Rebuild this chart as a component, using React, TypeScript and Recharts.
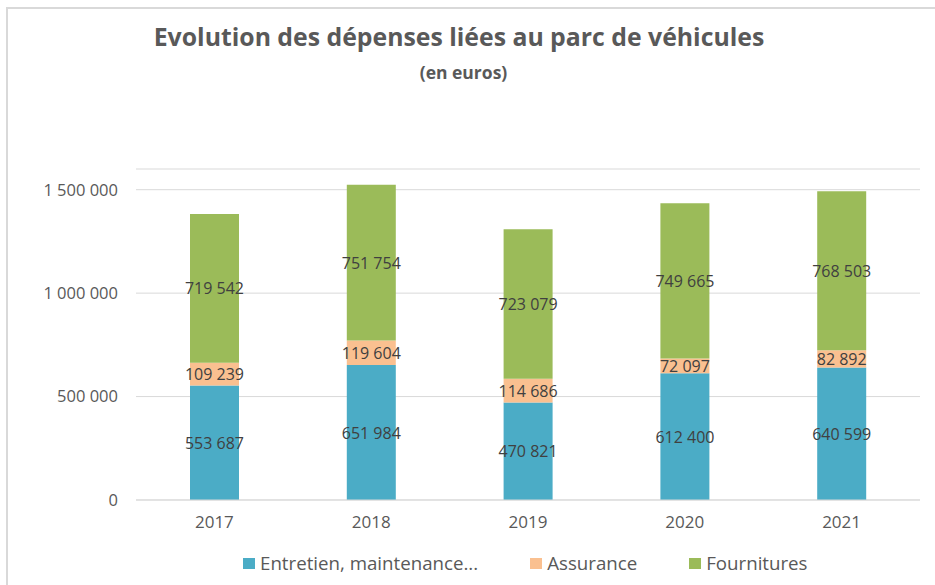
import { BarChart, Bar, XAxis, YAxis, CartesianGrid, LabelList } from "recharts";

const YEARS = ["2017", "2018", "2019", "2020", "2021"];
const ENTRETIEN = [553687, 651984, 470821, 612400, 640599];
const ASSURANCE = [109239, 119604, 114686, 72097, 82892];
const FOURNITURES = [719542, 751754, 723079, 749665, 768503];
const Y_TICKS = [0, 500000, 1000000, 1500000];

const SERIES = [
  { key: "entretien", label: "Entretien, maintenance...", color: "#4BACC6" },
  { key: "assurance", label: "Assurance", color: "#FAC090" },
  { key: "fournitures", label: "Fournitures", color: "#9BBB59" },
];

const data = YEARS.map((year, i) => ({
  year,
  entretien: ENTRETIEN[i],
  assurance: ASSURANCE[i],
  fournitures: FOURNITURES[i],
}));

const FONT = "'Open Sans', sans-serif";

// French thousands separator with a plain space
const fmt = (v: unknown) =>
  String(Math.round(Number(v))).replace(/\B(?=(\d{3})+(?!\d))/g, " ");

// centered label, no wrapping inside the narrow bar
const renderLabel = (props: any) => {
  const { x, y, width, height, value } = props;
  return (
    <text
      x={Number(x) + Number(width) / 2}
      y={Number(y) + Number(height) / 2}
      textAnchor="middle"
      dominantBaseline="central"
      fontSize={16}
      fontFamily={FONT}
      fill="#404040"
    >
      {fmt(value)}
    </text>
  );
};

export default function App() {
  return (
    <div
      style={{
        position: "absolute",
        left: 0,
        top: 0,
        width: 935,
        height: 585,
        background: "#fff",
        fontFamily: FONT,
        overflow: "hidden",
      }}
    >
      {/* chart frame */}
      <div
        style={{
          position: "absolute",
          left: 6,
          top: 7,
          width: 940,
          height: 600,
          borderLeft: "2px solid #d9d9d9",
          borderTop: "2px solid #d9d9d9",
        }}
      />
      <div
        style={{
          position: "absolute",
          left: 0,
          width: 918,
          top: 19,
          textAlign: "center",
          fontSize: 24.8,
          lineHeight: "34px",
          fontWeight: 700,
          color: "#595959",
        }}
      >
        Evolution des dépenses liées au parc de véhicules
      </div>
      <div
        style={{
          position: "absolute",
          left: 0,
          width: 927,
          top: 60,
          textAlign: "center",
          fontSize: 17.5,
          lineHeight: "24px",
          fontWeight: 700,
          color: "#595959",
        }}
      >
        (en euros)
      </div>

      <div style={{ position: "absolute", left: 0, top: 0 }}>
        <BarChart
          width={935}
          height={585}
          data={data}
          margin={{ top: 169, right: 15, bottom: 55, left: 16 }}
          barSize={49}
        >
          <CartesianGrid vertical={false} stroke="#d9d9d9" />
          <XAxis
            dataKey="year"
            height={30}
            tickLine={false}
            axisLine={{ stroke: "#d9d9d9" }}
            tickMargin={10}
            tick={{ fontSize: 17, fill: "#595959", fontFamily: FONT }}
          />
          <YAxis
            width={120}
            domain={[0, 1600000]}
            ticks={Y_TICKS}
            interval={0}
            tickLine={false}
            axisLine={false}
            tickMargin={12}
            tickFormatter={fmt}
            tick={{ fontSize: 16.5, fill: "#595959", fontFamily: FONT }}
          />
          {SERIES.map((s) => (
            <Bar
              key={s.key}
              dataKey={s.key}
              stackId="a"
              fill={s.color}
              isAnimationActive={false}
            >
              <LabelList dataKey={s.key} content={renderLabel} />
            </Bar>
          ))}
        </BarChart>
      </div>

      {/* legend */}
      <div
        style={{
          position: "absolute",
          left: 243,
          top: 551,
          display: "flex",
          gap: 52,
          fontSize: 18.7,
          lineHeight: "24px",
          color: "#595959",
          whiteSpace: "nowrap",
        }}
      >
        {SERIES.map((s) => (
          <div key={s.key} style={{ display: "flex", alignItems: "center" }}>
            <span
              style={{
                width: 12,
                height: 11,
                background: s.color,
                display: "inline-block",
                marginRight: 5,
              }}
            />
            {s.label}
          </div>
        ))}
      </div>
    </div>
  );
}
